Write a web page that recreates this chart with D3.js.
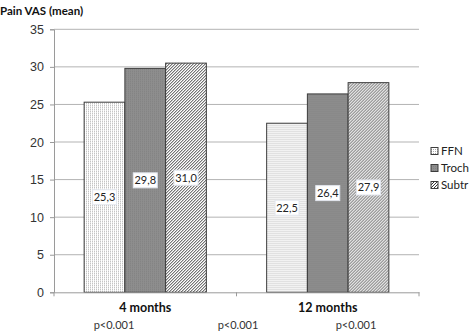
<!DOCTYPE html>
<html>
<head>
<meta charset="utf-8">
<script src="https://cdnjs.cloudflare.com/ajax/libs/d3/7.8.5/d3.min.js"></script>
<style>
  body { margin: 0; background: #fff; }
  svg { display: block; font-family: Lato, "Open Sans", sans-serif; }
</style>
</head>
<body>
<div id="chart"></div>
<script>
// data
const groups = ["4 months", "12 months"]
const series = ["FFN", "Troch", "Subtr"]
const ffn = [25.3, 22.5]
const troch = [29.8, 26.4]
const subtr = [30.5, 27.9]
const barLabels = [["25,3", "29,8", "31,0"], ["22,5", "26,4", "27,9"]]
const yTicks = [0, 5, 10, 15, 20, 25, 30, 35]
const pValues = ["p<0.001", "p<0.001", "p<0.001"]
const pPositions = [114, 238, 356]

const W = 472, H = 335
const margin = {top: 29.3, right: 53, bottom: 42.7, left: 54}
const width = W - margin.left - margin.right
const height = H - margin.top - margin.bottom

const svg = d3.select("#chart").append("svg")
    .attr("width", W)
    .attr("height", H)

// patterns
const defs = svg.append("defs")

let dots = defs.append("pattern")
    .attr("id", "dotsLight")
    .attr("patternUnits", "userSpaceOnUse")
    .attr("width", 2).attr("height", 2)
dots.append("rect").attr("width", 2).attr("height", 2).attr("fill", "#ffffff")
dots.append("rect").attr("width", 1).attr("height", 1).attr("fill", "#aaaaaa")

let dotsDark = defs.append("pattern")
    .attr("id", "dotsDark")
    .attr("patternUnits", "userSpaceOnUse")
    .attr("width", 2).attr("height", 2)
dotsDark.append("rect").attr("width", 2).attr("height", 2).attr("fill", "#8e8e8e")
dotsDark.append("rect").attr("width", 1).attr("height", 1).attr("fill", "#808080")

let hatch = defs.append("pattern")
    .attr("id", "hatch")
    .attr("patternUnits", "userSpaceOnUse")
    .attr("width", 3).attr("height", 3)
hatch.append("rect").attr("width", 3).attr("height", 3).attr("fill", "#ffffff")
hatch.append("path")
    .attr("d", "M-1,1 l2,-2 M0,3 l3,-3 M2,4 l2,-2")
    .attr("stroke", "#3a3a3a")
    .attr("stroke-width", 1)

const fills = {"FFN": "url(#dotsLight)", "Troch": "url(#dotsDark)", "Subtr": "url(#hatch)"}

const g = svg.append("g")
    .attr("transform", `translate(${margin.left},${margin.top})`)

// scales
const x0 = d3.scaleBand().domain(groups).range([0, width]).padding(0)
const x1 = d3.scaleBand().domain(series).range([0, x0.bandwidth()])
    .paddingInner(0).paddingOuter(0.74)
const y = d3.scaleLinear().domain([0, 35]).range([height, 0])

// gridlines
g.selectAll(".grid").data(yTicks.filter(d => d > 0)).enter()
    .append("line")
    .attr("x1", 0).attr("x2", width)
    .attr("y1", d => y(d)).attr("y2", d => y(d))
    .attr("stroke", "#b3b3b3")
    .attr("stroke-width", 1)

// y axis
const yAxis = g.append("g")
    .call(d3.axisLeft(y).tickValues(yTicks).tickSize(4).tickPadding(6))
yAxis.select(".domain").attr("stroke", "#9a9a9a")
yAxis.selectAll(".tick line").attr("stroke", "#9a9a9a")
yAxis.selectAll("text").attr("fill", "#333").style("font-size", "12.5px")

// bars
const data = groups.map((grp, i) => ({
    group: grp,
    bars: [
        {name: "FFN", value: ffn[i], label: barLabels[i][0]},
        {name: "Troch", value: troch[i], label: barLabels[i][1]},
        {name: "Subtr", value: subtr[i], label: barLabels[i][2]}
    ]
}))

const barGroups = g.selectAll(".barGroup").data(data).enter()
    .append("g")
    .attr("class", "barGroup")
    .attr("transform", d => `translate(${x0(d.group)},0)`)

barGroups.selectAll("rect.bar").data(d => d.bars).enter()
    .append("rect")
    .attr("class", "bar")
    .attr("x", d => x1(d.name))
    .attr("y", d => y(d.value))
    .attr("width", x1.bandwidth())
    .attr("height", d => height - y(d.value))
    .attr("fill", d => fills[d.name])
    .attr("stroke", "#3c3c3c")
    .attr("stroke-width", 1)

// value labels in little boxes, middle of the bar
let labelG = barGroups.selectAll("g.lbl").data(d => d.bars).enter()
    .append("g")
    .attr("class", "lbl")
    .attr("transform", d => `translate(${x1(d.name) + x1.bandwidth() / 2},${(y(d.value) + height) / 2})`)

labelG.append("rect")
    .attr("x", -12).attr("y", -7.5)
    .attr("width", 24).attr("height", 15)
    .attr("fill", "#ffffff")
    .attr("stroke", "#e2e6ee")
    .attr("stroke-width", 1)

labelG.append("text")
    .attr("text-anchor", "middle")
    .attr("dy", "0.36em")
    .attr("fill", "#222")
    .style("font-size", "11px")
    .text(d => d.label)

// x axis
const xAxis = g.append("g")
    .attr("transform", `translate(0,${height})`)
    .call(d3.axisBottom(x0).tickValues([]).tickSizeOuter(0))
xAxis.select(".domain").attr("stroke", "#9a9a9a")
// boundary ticks between categories
g.selectAll(".xtick").data([0, x0.step(), width]).enter()
    .append("line")
    .attr("x1", d => d).attr("x2", d => d)
    .attr("y1", height).attr("y2", height + 4)
    .attr("stroke", "#9a9a9a")

g.selectAll(".catLabel").data(groups).enter()
    .append("text")
    .attr("x", d => x0(d) + x0.bandwidth() / 2)
    .attr("y", height + 20)
    .attr("text-anchor", "middle")
    .attr("fill", "#111")
    .style("font-size", "12.5px")
    .style("font-weight", "bold")
    .text(d => d)

// p values
svg.selectAll(".pval").data(pValues).enter()
    .append("text")
    .attr("x", (d, i) => pPositions[i])
    .attr("y", 329)
    .attr("text-anchor", "middle")
    .attr("fill", "#333")
    .style("font-size", "11px")
    .text(d => d)

// title
svg.append("text")
    .attr("x", 0).attr("y", 15)
    .attr("fill", "#111")
    .style("font-size", "11.5px")
    .style("font-weight", "bold")
    .text("Pain VAS (mean)")

// legend
const legend = svg.append("g").attr("transform", "translate(431,0)")
const legendY = [151, 168, 185]
let items = legend.selectAll(".item").data(series).enter()
    .append("g")
    .attr("transform", (d, i) => `translate(0,${legendY[i]})`)
items.append("rect")
    .attr("x", 0).attr("y", -3.5)
    .attr("width", 7).attr("height", 7)
    .attr("fill", d => fills[d])
    .attr("stroke", "#3c3c3c")
items.append("text")
    .attr("x", 10)
    .attr("dy", "0.36em")
    .attr("fill", "#222")
    .style("font-size", "11.5px")
    .text(d => d)
</script>
</body>
</html>
